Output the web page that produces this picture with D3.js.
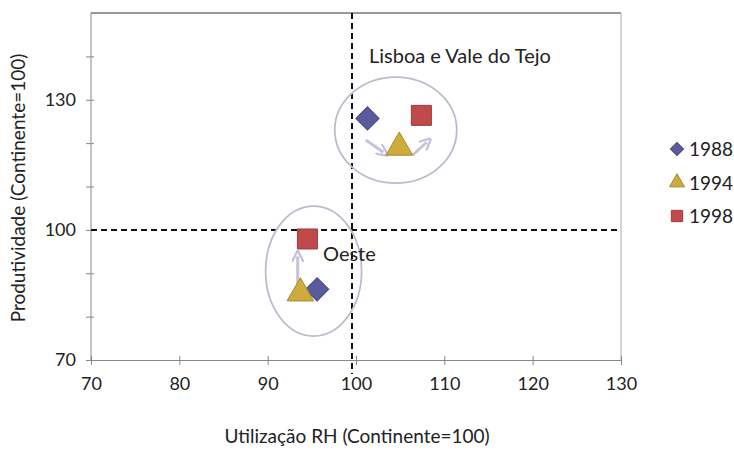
<!DOCTYPE html>
<html>
<head>
<meta charset="UTF-8">
<script src="https://d3js.org/d3.v7.min.js"></script>
<style>
  body { margin: 0; background: #fff; }
  text { font-family: Lato, "Open Sans", sans-serif; fill: #222; }
</style>
</head>
<body>
<svg id="chart" width="734" height="451"></svg>
<script>
  // series (x = Utilizacao RH, y = Produtividade)
  var years = ['1988', '1994', '1998'];
  var lisboaX = [101.3, 104.9, 107.4];
  var lisboaY = [125.7, 119.0, 126.4];
  var oesteX = [95.6, 93.7, 94.5];
  var oesteY = [86.3, 85.4, 97.9];
  var xTicks = [70, 80, 90, 100, 110, 120, 130];
  var yLabels = [70, 100, 130];
  var yTicks = [70, 80, 90, 100, 110, 120, 130, 140];

  var colors = { '1988': '#5a5b9c', '1994': '#cdab3c', '1998': '#c0494b' };
  var shapes = { '1988': d3.symbolSquare, '1994': d3.symbolTriangle, '1998': d3.symbolSquare };
  var sizes = { '1988': 270, '1994': 310, '1998': 400 };
  var rotations = { '1988': 45, '1994': 0, '1998': 0 };

  var svg = d3.select('#chart');
  var mLeft = 91, mRight = 621, mTop = 13, mBottom = 360;

  var x = d3.scaleLinear().domain([70, 130]).range([mLeft, mRight]);
  var y = d3.scaleLinear().domain([70, 150]).range([mBottom, mTop]);

  // frame
  svg.append('line').attr('x1', mLeft).attr('x2', mRight).attr('y1', mTop).attr('y2', mTop)
    .attr('stroke', '#333').attr('stroke-width', 1.2);
  svg.append('line').attr('x1', mRight).attr('x2', mRight).attr('y1', mTop).attr('y2', mBottom)
    .attr('stroke', '#aaa');

  // x axis
  var xAxis = svg.append('g').attr('transform', 'translate(0,' + mBottom + ')')
    .call(d3.axisBottom(x).tickValues(xTicks).tickSize(5).tickPadding(12));
  xAxis.select('.domain').attr('stroke', '#888');
  xAxis.selectAll('.tick line').attr('stroke', '#888').attr('y1', -4);
  xAxis.selectAll('.tick text').style('font-size', '18px').attr('fill', '#222');

  // y axis
  var yAxis = svg.append('g').attr('transform', 'translate(' + mLeft + ',0)')
    .call(d3.axisLeft(y).tickValues(yTicks).tickSize(5).tickPadding(10)
      .tickFormat(function (d) { return yLabels.indexOf(d) >= 0 ? d : ''; }));
  yAxis.select('.domain').attr('stroke', '#888').attr('d', 'M0,' + mTop + 'V' + mBottom);
  yAxis.selectAll('.tick line').attr('stroke', '#888').attr('x2', -5).attr('x1', 3);
  yAxis.selectAll('.tick text').style('font-size', '18px').attr('fill', '#222');

  // reference lines
  svg.append('line').attr('x1', mLeft).attr('x2', mRight).attr('y1', y(100)).attr('y2', y(100))
    .attr('stroke', '#111').attr('stroke-width', 2).attr('stroke-dasharray', '6,4');
  svg.append('line').attr('x1', x(100) - 4).attr('x2', x(100) - 4).attr('y1', mTop).attr('y2', mBottom + 14)
    .attr('stroke', '#111').attr('stroke-width', 2).attr('stroke-dasharray', '6,4');

  // ellipses
  svg.append('ellipse').attr('cx', x(104.5)).attr('cy', y(123)).attr('rx', 61).attr('ry', 53)
    .attr('fill', 'none').attr('stroke', '#c2b8cc').attr('stroke-width', 1.8);
  svg.append('ellipse').attr('cx', x(95.2)).attr('cy', y(90.5)).attr('rx', 48).attr('ry', 65)
    .attr('fill', 'none').attr('stroke', '#c2b8cc').attr('stroke-width', 1.8);

  // arrows
  var defs = svg.append('defs');
  defs.append('marker').attr('id', 'arr').attr('viewBox', '0 0 10 10').attr('refX', 5).attr('refY', 5)
    .attr('markerWidth', 4).attr('markerHeight', 4).attr('orient', 'auto')
    .append('path').attr('d', 'M0,0 L10,5 L0,10').attr('fill', 'none').attr('stroke', '#c9c1da').attr('stroke-width', 2);
  var arrows = [
    [lisboaX[0] - 0.2, lisboaY[0] - 5, lisboaX[0] + 1.8, lisboaY[0] - 7.8],
    [lisboaX[1] + 1.5, lisboaY[1] - 1.8, lisboaX[1] + 3.1, lisboaY[1] + 1.2],
    [oesteX[1] - 0.3, oesteY[1] - 0.5, oesteX[1] - 0.3, oesteY[1] + 8.5]
  ];
  svg.selectAll('.arrow').data(arrows).enter().append('line')
    .attr('x1', function (d) { return x(d[0]); }).attr('y1', function (d) { return y(d[1]); })
    .attr('x2', function (d) { return x(d[2]); }).attr('y2', function (d) { return y(d[3]); })
    .attr('stroke', '#c9c1da').attr('stroke-width', 3).attr('marker-end', 'url(#arr)');

  // points
  function drawPoints(xs, ys) {
    years.forEach(function (yr, i) {
      svg.append('path')
        .attr('d', d3.symbol().type(shapes[yr]).size(sizes[yr])())
        .attr('transform', 'translate(' + x(xs[i]) + ',' + y(ys[i]) + ') rotate(' + rotations[yr] + ')')
        .attr('fill', colors[yr]).attr('stroke', d3.color(colors[yr]).darker(0.6)).attr('stroke-width', 1);
    });
  }
  drawPoints(oesteX, oesteY);
  drawPoints(lisboaX, lisboaY);

  // region labels
  svg.append('text').attr('x', 369).attr('y', 63).style('font-size', '20px').text('Lisboa e Vale do Tejo');
  svg.append('text').attr('x', 323).attr('y', 261).style('font-size', '20px').text('Oeste');

  // legend
  years.forEach(function (yr, i) {
    var ly = 149 + i * 33.5;
    svg.append('path')
      .attr('d', d3.symbol().type(shapes[yr]).size(sizes[yr] * 0.32)())
      .attr('transform', 'translate(677,' + ly + ') rotate(' + rotations[yr] + ')')
      .attr('fill', colors[yr]).attr('stroke', d3.color(colors[yr]).darker(0.6));
    svg.append('text').attr('x', 689).attr('y', ly + 7).style('font-size', '19px').text(yr);
  });

  // axis titles
  svg.append('text').attr('text-anchor', 'middle').attr('x', 357).attr('y', 443)
    .style('font-size', '19px').text('Utilização RH (Continente=100)');
  svg.append('text').attr('text-anchor', 'middle')
    .attr('transform', 'translate(25,188) rotate(-90)')
    .style('font-size', '19px').text('Produtividade (Continente=100)');
</script>
</body>
</html>
